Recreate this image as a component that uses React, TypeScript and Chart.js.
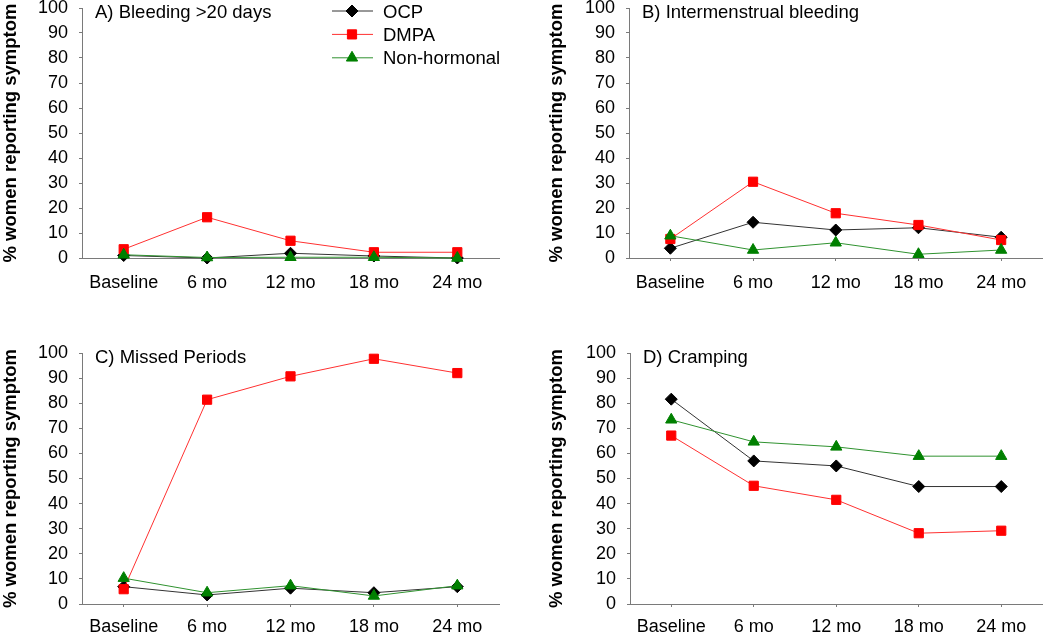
import React, { useEffect, useRef } from 'react';
import { Chart, registerables, ChartConfiguration, Plugin } from 'chart.js';

Chart.register(...registerables);

const categories = ['Baseline', '6 mo', '12 mo', '18 mo', '24 mo'];
const seriesNames = ['OCP', 'DMPA', 'Non-hormonal'];
const yAxisTitle = '% women reporting symptom';

// A) Bleeding >20 days
const bleedingOcp = [1.0, 0.0, 1.9, 0.8, 0.0];
const bleedingDmpa = [3.5, 16.3, 6.9, 2.3, 2.3];
const bleedingNonHormonal = [1.3, 0.2, 0.3, 0.3, 0.0];

// B) Intermenstrual bleeding
const intermenstrualOcp = [3.9, 14.3, 11.2, 12.1, 8.3];
const intermenstrualDmpa = [7.6, 30.5, 17.9, 13.2, 7.2];
const intermenstrualNonHormonal = [8.9, 3.2, 6.1, 1.5, 3.2];

// C) Missed Periods
const missedOcp = [6.9, 3.6, 6.3, 4.5, 6.9];
const missedDmpa = [5.9, 81.4, 90.7, 97.7, 92.0];
const missedNonHormonal = [10.3, 4.5, 7.3, 3.2, 7.3];

// D) Cramping
const crampingOcp = [81.6, 57.0, 55.0, 46.8, 46.8];
const crampingDmpa = [67.1, 47.1, 41.5, 28.2, 29.2];
const crampingNonHormonal = [73.4, 64.6, 62.6, 58.9, 58.9];

const FONT = '"Liberation Sans", Arial, sans-serif';
const AXIS_GREY = '#7a7a7a';

type Shape = 'rectRot' | 'rect' | 'triangle';

const seriesStyles: { marker: string; line: string; shape: Shape; radius: number }[] = [
  { marker: '#000000', line: '#333333', shape: 'rectRot', radius: 6 },
  { marker: '#ff0000', line: '#ff3030', shape: 'rect', radius: 6.5 },
  { marker: '#008000', line: '#2f922f', shape: 'triangle', radius: 6.5 },
];

type Panel = {
  title: string;
  values: number[][];
  legend: boolean;
  left: number;
  top: number;
  padLeft: number;
  yWidth: number;
  padRight: number;
  padTop: number;
  padBottom: number;
  labelPad: number;
};

const PANEL_W = 525;
const PANEL_H = 317;
const X_AXIS_H = 30;

const panels: Panel[] = [
  {
    title: 'A) Bleeding >20 days',
    values: [bleedingOcp, bleedingDmpa, bleedingNonHormonal],
    legend: true,
    left: 0, top: 0,
    padLeft: 0, yWidth: 82, padRight: 26, padTop: 8, padBottom: PANEL_H - X_AXIS_H - 258, labelPad: 11,
  },
  {
    title: 'B) Intermenstrual bleeding',
    values: [intermenstrualOcp, intermenstrualDmpa, intermenstrualNonHormonal],
    legend: false,
    left: 525, top: 0,
    padLeft: 21, yWidth: 83, padRight: 4, padTop: 8, padBottom: PANEL_H - X_AXIS_H - 258, labelPad: 11,
  },
  {
    title: 'C) Missed Periods',
    values: [missedOcp, missedDmpa, missedNonHormonal],
    legend: false,
    left: 0, top: 317,
    padLeft: 0, yWidth: 82, padRight: 26, padTop: 36, padBottom: PANEL_H - X_AXIS_H - 287, labelPad: 9,
  },
  {
    title: 'D) Cramping',
    values: [crampingOcp, crampingDmpa, crampingNonHormonal],
    legend: false,
    left: 525, top: 317,
    padLeft: 21, yWidth: 84, padRight: 3, padTop: 36, padBottom: PANEL_H - X_AXIS_H - 287, labelPad: 9,
  },
];

function drawMarker(ctx: CanvasRenderingContext2D, shape: Shape, x: number, y: number, r: number, color: string) {
  ctx.beginPath();
  if (shape === 'rectRot') {
    ctx.moveTo(x - r, y);
    ctx.lineTo(x, y - r);
    ctx.lineTo(x + r, y);
    ctx.lineTo(x, y + r);
  } else if (shape === 'rect') {
    const s = r * Math.SQRT1_2;
    ctx.rect(x - s, y - s, 2 * s, 2 * s);
  } else {
    const a = (2 * Math.PI) / 3;
    ctx.moveTo(x, y - r);
    ctx.lineTo(x + Math.sin(a) * r, y - Math.cos(a) * r);
    ctx.lineTo(x + Math.sin(2 * a) * r, y - Math.cos(2 * a) * r);
  }
  ctx.closePath();
  ctx.fillStyle = color;
  ctx.strokeStyle = color;
  ctx.lineWidth = 1;
  ctx.fill();
  ctx.stroke();
}

function decorPlugin(title: string, showLegend: boolean): Plugin<'line'> {
  return {
    id: 'panelDecor',
    afterDraw(chart) {
      const { ctx, chartArea } = chart;
      ctx.save();
      ctx.font = `18.5px ${FONT}`;
      ctx.fillStyle = '#000';
      ctx.textAlign = 'left';
      ctx.textBaseline = 'alphabetic';
      ctx.fillText(title, chartArea.left + 13, chartArea.top + 9.5);

      if (showLegend) {
        seriesNames.forEach((name, i) => {
          const st = seriesStyles[i];
          const cy = chartArea.top + 3 + i * 23.4;
          const x0 = chartArea.left + 250;
          ctx.beginPath();
          ctx.moveTo(x0, cy);
          ctx.lineTo(x0 + 41, cy);
          ctx.strokeStyle = st.line;
          ctx.lineWidth = 1;
          ctx.stroke();
          drawMarker(ctx, st.shape, x0 + 20, cy, st.radius, st.marker);
          ctx.fillStyle = '#000';
          ctx.textBaseline = 'middle';
          ctx.fillText(name, x0 + 51, cy + 1.5);
        });
      }
      ctx.restore();
    },
  };
}

const PanelChart: React.FC<{ panel: Panel }> = ({ panel }) => {
  const chartRef = useRef<HTMLCanvasElement | null>(null);

  useEffect(() => {
    if (!chartRef.current) return;

    const config: ChartConfiguration<'line'> = {
      type: 'line',
      data: {
        labels: categories,
        datasets: seriesNames.map((name, i) => ({
          label: name,
          data: panel.values[i],
          borderColor: seriesStyles[i].line,
          borderWidth: 1,
          backgroundColor: seriesStyles[i].marker,
          pointBackgroundColor: seriesStyles[i].marker,
          pointBorderColor: seriesStyles[i].marker,
          pointBorderWidth: 1,
          pointStyle: seriesStyles[i].shape,
          pointRadius: seriesStyles[i].radius,
          pointHoverRadius: seriesStyles[i].radius,
          tension: 0,
          fill: false,
          clip: false,
          order: 3 - i,
        })),
      },
      options: {
        responsive: true,
        maintainAspectRatio: false,
        animation: false,
        layout: {
          padding: {
            left: panel.padLeft,
            right: panel.padRight,
            top: panel.padTop,
            bottom: panel.padBottom,
          },
        },
        plugins: {
          legend: { display: false },
          tooltip: { enabled: false },
        },
        scales: {
          x: {
            type: 'category',
            offset: true,
            grid: {
              drawOnChartArea: false,
              offset: false,
              tickLength: 3,
              color: AXIS_GREY,
            },
            border: { display: true, color: AXIS_GREY, width: 1 },
            ticks: {
              color: '#000',
              font: { family: FONT, size: 18 },
              padding: panel.labelPad,
              maxRotation: 0,
              autoSkip: false,
            },
            afterFit: (scale) => {
              scale.height = X_AXIS_H;
              scale.paddingLeft = 0;
              scale.paddingRight = 0;
            },
          },
          y: {
            min: 0,
            max: 100,
            grid: {
              drawOnChartArea: false,
              tickLength: 3,
              color: AXIS_GREY,
            },
            border: { display: true, color: AXIS_GREY, width: 1 },
            ticks: {
              stepSize: 10,
              color: '#000',
              font: { family: FONT, size: 18 },
              padding: 11,
              autoSkip: false,
            },
            title: {
              display: true,
              text: yAxisTitle,
              color: '#000',
              font: { family: FONT, size: 18.5, weight: 'bold' },
              padding: 0,
            },
            afterFit: (scale) => {
              scale.width = panel.yWidth;
              scale.paddingTop = 0;
              scale.paddingBottom = 0;
            },
          },
        },
      },
      plugins: [decorPlugin(panel.title, panel.legend)],
    };

    const chartInstance = new Chart(chartRef.current, config);
    return () => {
      chartInstance.destroy();
    };
  }, [panel]);

  return (
    <div
      style={{
        position: 'absolute',
        left: panel.left,
        top: panel.top,
        width: PANEL_W,
        height: PANEL_H,
      }}
    >
      <canvas ref={chartRef} />
    </div>
  );
};

const App: React.FC = () => {
  return (
    <div
      style={{
        position: 'absolute',
        left: 0,
        top: 0,
        width: 1050,
        height: 634,
        background: '#fff',
        overflow: 'hidden',
      }}
    >
      {panels.map((p) => (
        <PanelChart key={p.title} panel={p} />
      ))}
    </div>
  );
};

export default App;
